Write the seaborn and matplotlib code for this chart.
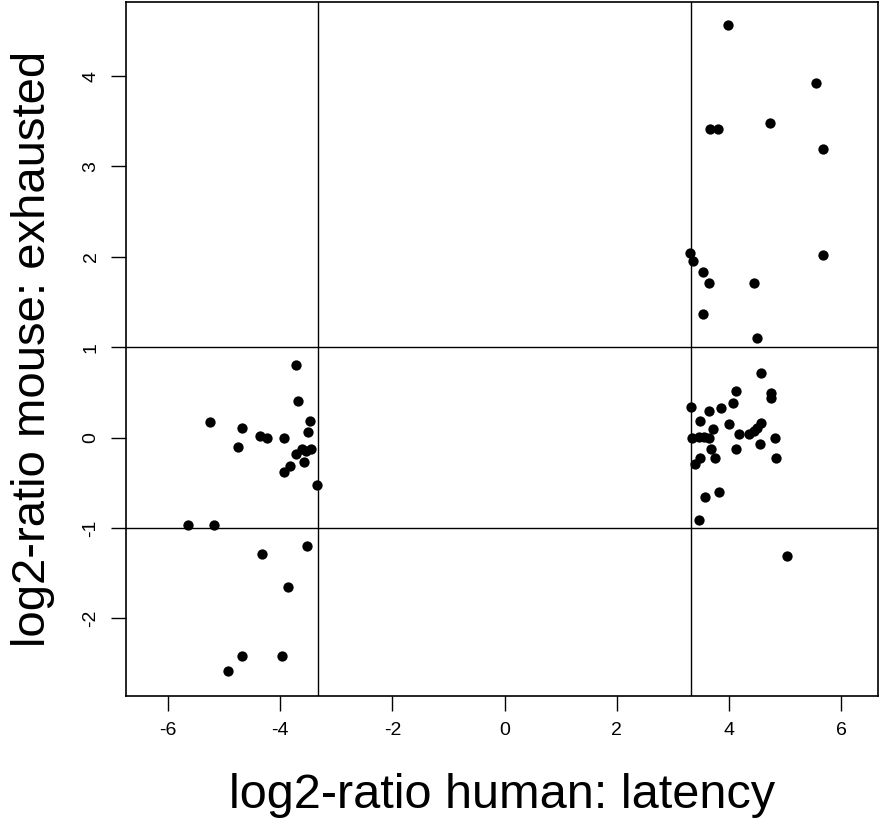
import numpy as np
import pandas as pd
import matplotlib
matplotlib.use("Agg")
import matplotlib.pyplot as plt
import seaborn as sns

# log2-ratio values
human_latency = [
    -3.72, -3.68, -5.26, -3.46, -4.68, -3.50, -4.36, -4.24, -3.93, -4.76,
    -3.62, -3.72, -3.45, -3.54, -3.57, -3.82, -3.93, -3.35, -5.64, -5.18,
    -3.53, -4.32, -3.86, -4.68, -3.96, -4.93,
    3.98, 5.55, 3.67, 3.81, 4.73, 5.68, 3.30, 3.36, 3.54, 5.68,
    3.65, 4.44, 3.54, 4.51,
    4.58, 4.12, 4.76, 4.76, 4.08, 3.33, 3.86, 3.65, 3.48, 4.01,
    4.58, 4.51, 3.71, 4.18, 4.36, 4.45, 3.35, 3.46, 3.55, 3.64,
    4.82, 4.55, 3.68, 4.12, 3.76, 4.85, 3.48, 3.39, 3.82, 3.57,
    3.46, 5.04,
]
mouse_exhausted = [
    0.80, 0.41, 0.17, 0.18, 0.11, 0.06, 0.02, 0.00, 0.00, -0.10,
    -0.13, -0.18, -0.13, -0.15, -0.27, -0.31, -0.38, -0.53, -0.97, -0.97,
    -1.20, -1.29, -1.65, -2.42, -2.42, -2.58,
    4.56, 3.92, 3.41, 3.41, 3.48, 3.19, 2.04, 1.95, 1.83, 2.02,
    1.71, 1.71, 1.37, 1.10,
    0.71, 0.51, 0.49, 0.44, 0.38, 0.34, 0.33, 0.29, 0.18, 0.15,
    0.16, 0.11, 0.10, 0.04, 0.04, 0.07, 0.00, 0.01, 0.01, 0.00,
    0.00, -0.07, -0.13, -0.13, -0.23, -0.23, -0.23, -0.29, -0.60, -0.66,
    -0.91, -1.31,
]
x_cut = np.log2(10)
y_cut = 1

df = pd.DataFrame({"human": human_latency, "mouse": mouse_exhausted})

sns.set_style("white")
plt.rcParams["font.family"] = ["Liberation Sans", "DejaVu Sans"]
plt.rcParams["axes.unicode_minus"] = False
plt.rcParams["text.color"] = "black"
plt.rcParams["axes.labelcolor"] = "black"
plt.rcParams["xtick.color"] = "black"
plt.rcParams["ytick.color"] = "black"

fig = plt.figure(figsize=(8.8, 8.18), dpi=100)
ax = fig.add_axes([126 / 880, 1 - 696 / 818, 752 / 880, 694 / 818])

sns.scatterplot(data=df, x="human", y="mouse", ax=ax, color="black",
                s=55, edgecolor="black", linewidth=0)

# cutoff lines
ax.axvline(-x_cut, color="black", lw=1)
ax.axvline(x_cut, color="black", lw=1)
ax.axhline(y_cut, color="black", lw=1)
ax.axhline(-y_cut, color="black", lw=1)

ax.set_xlim(-6.75, 6.66)
ax.set_ylim(-2.86, 4.82)
ax.set_xticks([-6, -4, -2, 0, 2, 4, 6])
ax.set_yticks([-2, -1, 0, 1, 2, 3, 4])

for sp in ax.spines.values():
    sp.set_color("black")
    sp.set_linewidth(1.2)

ax.tick_params(axis="both", direction="out", length=11, width=1,
               color="black", labelcolor="black", labelsize=14, pad=8,
               bottom=True, left=True)
plt.setp(ax.get_yticklabels(), rotation=90, va="center")

ax.set_xlabel("log2-ratio human: latency", fontsize=35, labelpad=24)
ax.set_ylabel("log2-ratio mouse: exhausted", fontsize=34, labelpad=20)

fig.savefig("out.png", dpi=100)
